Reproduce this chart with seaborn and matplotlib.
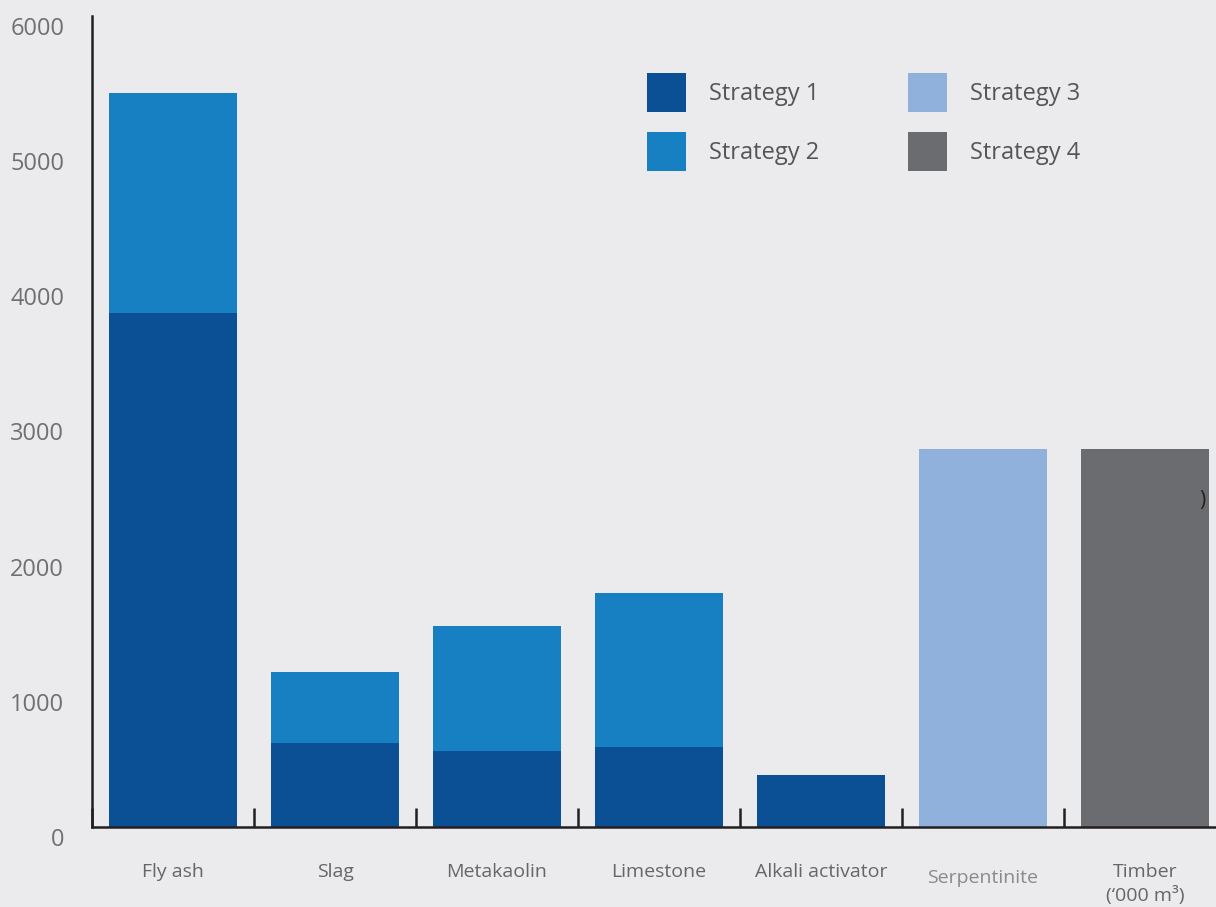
import numpy as np
import pandas as pd
import matplotlib
matplotlib.use("Agg")
import matplotlib.pyplot as plt
import matplotlib.transforms as mtransforms
from matplotlib.patches import Patch
import seaborn as sns

# datos
categories = ["Fly ash", "Slag", "Metakaolin", "Limestone", "Alkali activator", "Serpentinite", "Timber"]
tick_labels = ["Fly ash", "Slag", "Metakaolin", "Limestone", "Alkali activator", "Serpentinite", "Timber\n(\u2018000 m\u00b3)"]
strategy1 = [3800, 620, 560, 590, 385, 0, 0]
strategy2 = [1630, 525, 925, 1140, 0, 0, 0]
strategy3 = [0, 0, 0, 0, 0, 2800, 0]
strategy4 = [0, 0, 0, 0, 0, 0, 2800]
yticks = [0, 1000, 2000, 3000, 4000, 5000, 6000]

colors = {"Strategy 1": "#0b4f95", "Strategy 2": "#1780c2",
          "Strategy 3": "#90b1dc", "Strategy 4": "#6b6c70"}
bg = "#ebebee"

df = pd.DataFrame({"cat": categories, "s1": strategy1, "s2": strategy2,
                   "s3": strategy3, "s4": strategy4})
df["total"] = df[["s1", "s2", "s3", "s4"]].sum(axis=1)

# color de la barra "total" por categoria
top_color = {}
for _, r in df.iterrows():
    if r["s4"] > 0:
        top_color[r["cat"]] = colors["Strategy 4"]
    elif r["s3"] > 0:
        top_color[r["cat"]] = colors["Strategy 3"]
    elif r["s2"] > 0:
        top_color[r["cat"]] = colors["Strategy 2"]
    else:
        top_color[r["cat"]] = colors["Strategy 1"]

sns.set_style("white")
plt.rcParams["font.family"] = ["Open Sans", "DejaVu Sans"]

fig = plt.figure(figsize=(12.16, 9.07), dpi=100, facecolor=bg)
ax = fig.add_axes([92 / 1216, 80 / 907, 1 - 92 / 1216, 811 / 907])
ax.set_facecolor(bg)

w = 128 / 162
sns.barplot(data=df, x="cat", y="total", hue="cat", palette=top_color,
            order=categories, width=w, saturation=1, legend=False,
            linewidth=0, ax=ax)
sns.barplot(data=df, x="cat", y="s1", color=colors["Strategy 1"],
            order=categories, width=w, saturation=1, linewidth=0, ax=ax)

ax.set_xlabel("")
ax.set_ylabel("")

for s in ["top", "right"]:
    ax.spines[s].set_visible(False)
for s in ["left", "bottom"]:
    ax.spines[s].set_color("#231f20")
    ax.spines[s].set_linewidth(1.8)

# ticks
ax.set_yticks(yticks)
ax.set_yticklabels([str(v) for v in yticks], fontsize=17, color="#707070")
ax.tick_params(axis="y", length=0, pad=20)
off = mtransforms.ScaledTranslation(0, -10 / 100, fig.dpi_scale_trans)
for lab in ax.get_yticklabels():
    lab.set_transform(lab.get_transform() + off)

ax.set_xticks(range(len(categories)))
ax.set_xticklabels(tick_labels, fontsize=14, color="#666666", va="top", linespacing=1.3)
ax.tick_params(axis="x", which="major", length=0, pad=26)
ax.set_xticks(np.arange(len(categories)) - 0.5, minor=True)
ax.tick_params(axis="x", which="minor", bottom=True, direction="in",
               length=14, width=1.8, color="#231f20")

# limites despues de los ticks (set_xticks expande la vista)
ax.set_xlim(-0.5, (1216 - 92) / 162 - 0.5)
ax.set_ylim(0, 6000)

lab = ax.get_xticklabels()[5]
lab.set_color("#8a8a8a")
lab.set_transform(lab.get_transform() + mtransforms.ScaledTranslation(0, -6 / 100, fig.dpi_scale_trans))

# parentesis suelto que aparece en la imagen original
fig.text(1202 / 1216, 1 - 500 / 907, ")", fontsize=15, color="#231f20", ha="center", va="center")

handles = [Patch(facecolor=c, edgecolor="none", label=k) for k, c in colors.items()]
ax.legend(handles=handles, ncol=2, frameon=False, fontsize=17,
          labelcolor="#555555", handlelength=1.65, handleheight=2.157,
          handletextpad=1.0, columnspacing=3.72, labelspacing=0.85, borderpad=0,
          loc="upper left", bbox_to_anchor=(635 / 1216, 1 - 61 / 907),
          bbox_transform=fig.transFigure)

plt.savefig("out.png", dpi=100, facecolor=bg)
